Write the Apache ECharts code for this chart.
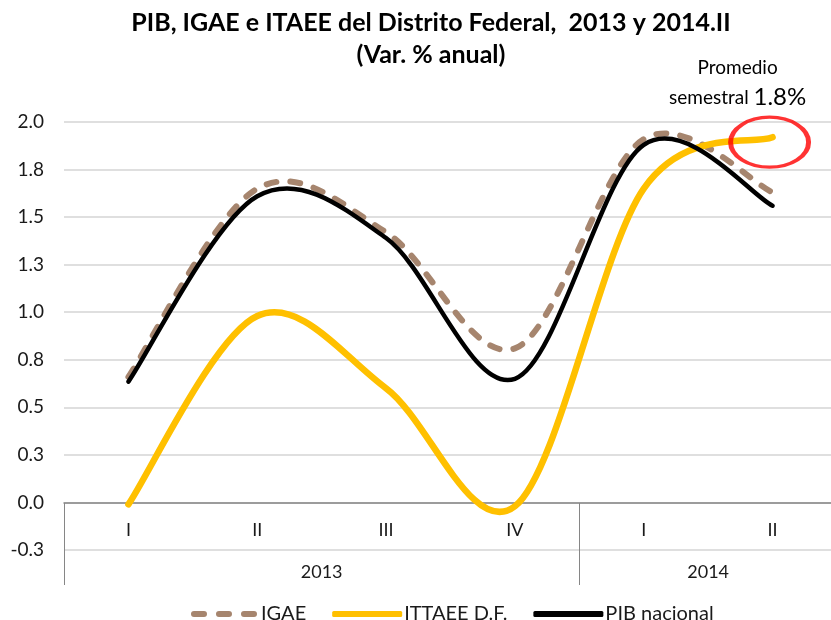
<!DOCTYPE html>
<html>
<head>
<meta charset="utf-8">
<script src="https://cdn.jsdelivr.net/npm/echarts@6/dist/echarts.min.js"></script>
<style>
  html, body { margin: 0; padding: 0; background: #fff; }
  #chart { width: 831px; height: 620px; }
</style>
</head>
<body>
<div id="chart"></div>
<script>
  // trimestres / semestres
  const quarters = ['I', 'II', 'III', 'IV', 'I', 'II']
  const yearGroups = ['2013', '2014']
  const yearSizes = [4, 2]

  const igae = [0.66, 1.65, 1.42, 0.81, 1.91, 1.63]
  const itaee = [-0.01, 0.98, 0.60, -0.02, 1.65, 1.92]
  const pib = [0.635, 1.61, 1.39, 0.65, 1.88, 1.56]

  const font = 'Lato, "Liberation Sans", sans-serif'

  // posicion de las etiquetas de año y separadores
  let yearLabelAt = []
  let yearTicks = [0]
  let acc = 0
  yearSizes.forEach(function(n) {
    yearLabelAt.push(acc + n / 2)
    acc += n
    yearTicks.push(acc)
  })

  // curva suavizada tipo Excel (Catmull-Rom, tangente /6)
  function smoothLine(values, color, width, dash) {
    return function(params, api) {
      if (params.dataIndex !== 0) return null
      let pts = values.map(function(v, i) { return api.coord([i, v]) })
      let n = pts.length
      let d = 'M' + pts[0][0] + ',' + pts[0][1]
      for (let i = 0; i < n - 1; i++) {
        let p0 = pts[Math.max(i - 1, 0)]
        let p1 = pts[i]
        let p2 = pts[i + 1]
        let p3 = pts[Math.min(i + 2, n - 1)]
        let c1x = p1[0] + (p2[0] - p0[0]) / 6
        let c1y = p1[1] + (p2[1] - p0[1]) / 6
        let c2x = p2[0] - (p3[0] - p1[0]) / 6
        let c2y = p2[1] - (p3[1] - p1[1]) / 6
        d += 'C' + c1x + ',' + c1y + ' ' + c2x + ',' + c2y + ' ' + p2[0] + ',' + p2[1]
      }
      return {
        type: 'path',
        shape: { pathData: d },
        style: {
          fill: 'none',
          stroke: color,
          lineWidth: width,
          lineDash: dash || null,
          lineCap: 'round',
          lineJoin: 'round'
        }
      }
    }
  }

  function toPairs(values) {
    return values.map(function(v, i) { return [i, v] })
  }

  const dashIcon = 'path://M3,0H13A3,3 0 0 1 13,6H3A3,3 0 0 1 3,0Z' +
    'M28,0H38A3,3 0 0 1 38,6H28A3,3 0 0 1 28,0Z' +
    'M53,0H63A3,3 0 0 1 63,6H53A3,3 0 0 1 53,0Z'

  const chart = echarts.init(document.getElementById('chart'))
  chart.setOption({
    animation: false,
    title: {
      text: 'PIB, IGAE e ITAEE del Distrito Federal,  2013 y 2014.II\n(Var. % anual)',
      left: 426,
      top: 2,
      textAlign: 'center',
      textStyle: {
        fontFamily: font,
        fontWeight: 'bold',
        fontSize: 25,
        lineHeight: 32,
        color: '#000'
      }
    },
    legend: {
      left: 186,
      top: 599,
      itemWidth: 70,
      itemHeight: 6,
      itemGap: 26,
      textStyle: { fontFamily: font, fontSize: 20, color: '#1a1a1a', padding: [0, 0, 0, -3] },
      data: [
        { name: 'IGAE', icon: dashIcon },
        { name: 'ITTAEE D.F.', icon: 'roundRect' },
        { name: 'PIB nacional', icon: 'roundRect' }
      ]
    },
    grid: {
      left: 64,
      width: 773,
      top: 122,
      bottom: 70,
      outerBoundsMode: 'none'
    },
    xAxis: [{
      type: 'category',
      data: quarters,
      boundaryGap: true,
      position: 'bottom',
      offset: -47,
      axisLine: { onZero: false, lineStyle: { color: '#868686', width: 1.5 } },
      axisTick: { show: false },
      axisLabel: { fontFamily: font, fontSize: 18, color: '#1a1a1a', margin: 18 },
      splitLine: { show: false }
    }, {
      type: 'value',
      min: 0,
      max: quarters.length,
      position: 'bottom',
      offset: -47,
      axisLine: { show: false, onZero: false },
      axisTick: {
        show: true,
        customValues: yearTicks,
        length: 82,
        lineStyle: { color: '#868686', width: 1 }
      },
      axisLabel: {
        customValues: yearLabelAt,
        formatter: function(v) {
          return yearGroups[yearLabelAt.indexOf(v)]
        },
        fontFamily: font,
        fontSize: 18,
        color: '#1a1a1a',
        margin: 60
      },
      splitLine: { show: false }
    }],
    yAxis: {
      type: 'value',
      min: -0.25,
      max: 2,
      interval: 0.25,
      axisLine: { show: false },
      axisTick: { show: false },
      axisLabel: {
        fontFamily: font,
        fontSize: 19,
        color: '#1a1a1a',
        margin: 20,
        formatter: function(v) { return v.toFixed(1) }
      },
      splitLine: { showMinLine: true, showMaxLine: true, lineStyle: { color: '#d4d4d4', width: 1.5 } }
    },
    graphic: [{
      type: 'text',
      left: 669,
      top: 58,
      style: {
        text: '{a|Promedio}\n{a|semestral }{b|1.8%}',
        align: 'center',
        rich: {
          a: { fontFamily: font, fontSize: 19, color: '#1a1a1a', lineHeight: 30, align: 'center' },
          b: { fontFamily: font, fontSize: 24, color: '#1a1a1a', lineHeight: 30 }
        }
      }
    }],
    series: [{
      name: 'IGAE',
      type: 'custom',
      data: toPairs(igae),
      encode: { x: 0, y: 1 },
      itemStyle: { color: '#a6856e' },
      renderItem: smoothLine(igae, '#a6856e', 6, [10, 14])
    }, {
      name: 'ITTAEE D.F.',
      type: 'custom',
      data: toPairs(itaee),
      encode: { x: 0, y: 1 },
      itemStyle: { color: '#ffc000' },
      renderItem: smoothLine(itaee, '#ffc000', 6.5)
    }, {
      name: 'PIB nacional',
      type: 'custom',
      data: toPairs(pib),
      encode: { x: 0, y: 1 },
      itemStyle: { color: '#000' },
      renderItem: smoothLine(pib, '#000', 4.5)
    }, {
      // elipse roja sobre el ultimo dato del ITAEE
      name: 'marca',
      type: 'scatter',
      data: [[quarters.length - 1, itaee[itaee.length - 1]]],
      symbol: 'circle',
      symbolSize: [78, 50],
      symbolOffset: [-3, 5],
      itemStyle: { color: 'rgba(0,0,0,0)', borderColor: '#ff0000', borderWidth: 4 },
      silent: true,
      z: 5
    }]
  })
</script>
</body>
</html>
